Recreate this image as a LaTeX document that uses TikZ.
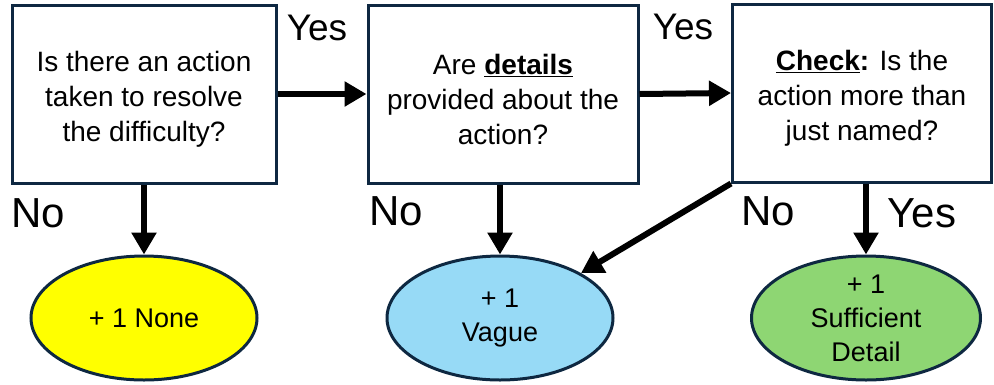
\documentclass[tikz,border=0pt]{standalone}
\usepackage{fontspec}
\setmainfont{Liberation Sans}
\usetikzlibrary{arrows.meta,shapes.geometric}
\definecolor{navy}{RGB}{14,40,65}
\definecolor{noneyellow}{RGB}{255,255,0}
\definecolor{vagueblue}{RGB}{151,218,246}
\definecolor{detailgreen}{RGB}{142,214,115}
\newcommand{\qtop}{\rule{0pt}{31pt}}
\begin{document}
\begin{tikzpicture}[x=1pt,y=1pt]
			\tikzstyle{every node}+=[inner sep=0pt]
			\tikzstyle{question}=[draw=navy, line width=3pt, fill=white, minimum height=178pt, align=center, font=\fontsize{28}{35}\selectfont]
			\tikzstyle{score}=[ellipse, draw=navy, line width=3pt, minimum width=226pt, minimum height=124pt, align=center, font=\fontsize{27}{34}\selectfont]
			\tikzstyle{answer}=[font=\fontsize{37}{40}\selectfont]
			\tikzstyle{lowanswer}=[font=\fontsize{42}{44}\selectfont]
			\tikzstyle{flow}=[line width=6pt, -{Triangle[width=24pt,length=22pt]}]
			\useasboundingbox (0,0) rectangle (994,-384);
			\node [question, minimum width=264pt] (q1) at (144,-94) {\qtop Is there an action\\taken to resolve\\the difficulty?};
			\node [question, minimum width=270pt] (q2) at (503,-94) {\qtop Are \underline{\textbf{details}}\\provided about the\\action?};
			\node [question, minimum width=259pt] (q3) at (862,-93) {\qtop\underline{\textbf{Check}}\textbf{:} Is the\\action more than\\just named?};
			\node [score, fill=noneyellow] (none) at (144,-318) {+ 1 None};
			\node [score, fill=vagueblue] (vague) at (500,-318) {+ 1\\Vague};
			\node [score, fill=detailgreen, minimum width=229pt] (detail) at (866,-318) {+ 1\\Sufficient\\Detail};
			\draw [flow] (q1.east) -- (q2.west);
			\draw [flow] (q2.east) -- (q3.west);
			\draw [flow] (q1.south) -- (none.north);
			\draw [flow] (q2.south -| vague.north) -- (vague.north);
			\draw [flow] (q3.south -| detail.north) -- (detail.north);
			\draw [flow] (q3.south west) -- (vague.north east);
			\node [answer] (yes1) at (317,-28) {Yes};
			\node [answer] (yes2) at (683,-27) {Yes};
			\node [lowanswer] (no1) at (38,-213) {No};
			\node [lowanswer] (no2) at (396,-211) {No};
			\node [lowanswer] (no3) at (768,-211) {No};
			\node [lowanswer] (yes3) at (922,-213) {Yes};
		\end{tikzpicture}
\end{document}
